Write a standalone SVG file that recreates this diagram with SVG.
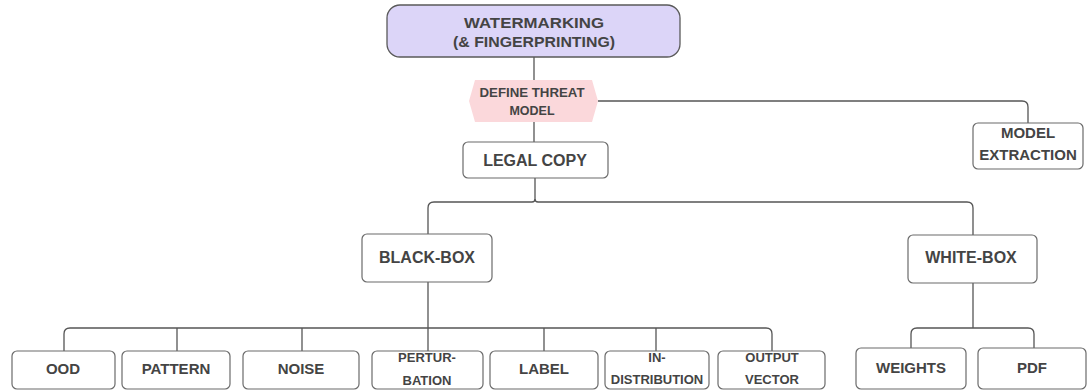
<svg xmlns="http://www.w3.org/2000/svg" width="1088" height="391" viewBox="0 0 1088 391">
  <style>
    .box { fill: #ffffff; stroke: #6b6b6b; stroke-width: 1.2; }
    .lbl { font-family: "Liberation Sans", Arial, sans-serif; font-weight: bold; fill: #444444; text-anchor: middle; }
    .big { font-size: 16px; }
    .mid { font-size: 15px; }
    .sm { font-size: 13px; }
    .wire { fill: none; stroke: #555555; stroke-width: 1.3; }
  </style>
  <rect width="1088" height="391" fill="#ffffff"/>

  <!-- connectors -->
  <g id="connectors">
    <path class="wire" d="M534 57 V80"/>
    <path class="wire" d="M598 101 H1022 Q1028 101 1028 107 V123"/>
    <path class="wire" d="M534 122 V142"/>
    <path class="wire" d="M535 178 V199 Q535 202 532 202 H434 Q428 202 428 208 V234"/>
    <path class="wire" d="M535 199 Q535 202 538 202 H967 Q973 202 973 208 V235"/>
    <path class="wire" d="M428 282 V351"/>
    <path class="wire" d="M428 328 H70 Q64 328 64 334 V351"/>
    <path class="wire" d="M177 328 V351"/>
    <path class="wire" d="M302 328 V351"/>
    <path class="wire" d="M428 328 H766 Q772 328 772 334 V351"/>
    <path class="wire" d="M544 328 V351"/>
    <path class="wire" d="M656 328 V351"/>
    <path class="wire" d="M973 283 V328"/>
    <path class="wire" d="M973 328 H917 Q911 328 911 334 V348"/>
    <path class="wire" d="M973 328 H1028 Q1034 328 1034 334 V348"/>
  </g>

  <!-- root -->
  <g id="watermarking">
    <rect x="387" y="5" width="293" height="52" rx="13" fill="#dcd5f8" stroke="#5a5a5a" stroke-width="1.3"/>
    <text class="lbl" x="534" y="28" font-size="15" textLength="140" lengthAdjust="spacingAndGlyphs">WATERMARKING</text>
    <text class="lbl" x="534" y="47" font-size="15" textLength="162" lengthAdjust="spacingAndGlyphs">(&amp; FINGERPRINTING)</text>
  </g>

  <g id="threat-model">
    <polygon points="475,80 592,80 598,101 592,122 475,122 469,101" fill="#fbd8db"/>
    <text class="lbl" x="532" y="97" font-size="12.5" textLength="105" lengthAdjust="spacingAndGlyphs">DEFINE THREAT</text>
    <text class="lbl" x="532" y="115" font-size="12.5">MODEL</text>
  </g>

  <g id="model-extraction">
    <rect class="box" x="973" y="123" width="110" height="46" rx="5"/>
    <text class="lbl mid" x="1028" y="138">MODEL</text>
    <text class="lbl mid" x="1028" y="160">EXTRACTION</text>
  </g>

  <g id="legal-copy">
    <rect class="box" x="463" y="142" width="145" height="36" rx="5"/>
    <text class="lbl big" x="535" y="166">LEGAL COPY</text>
  </g>

  <g id="black-box">
    <rect class="box" x="362" y="234" width="130" height="48" rx="5"/>
    <text class="lbl big" x="427" y="263">BLACK-BOX</text>
  </g>

  <g id="white-box">
    <rect class="box" x="908" y="235" width="129" height="48" rx="5"/>
    <text class="lbl big" x="971" y="263">WHITE-BOX</text>
  </g>

  <g id="ood">
    <rect class="box" x="12" y="351" width="103" height="38" rx="5"/>
    <text class="lbl mid" x="63" y="374">OOD</text>
  </g>
  <g id="pattern">
    <rect class="box" x="122" y="351" width="108" height="38" rx="5"/>
    <text class="lbl mid" x="176" y="374">PATTERN</text>
  </g>
  <g id="noise">
    <rect class="box" x="243" y="351" width="116" height="38" rx="5"/>
    <text class="lbl mid" x="301" y="374">NOISE</text>
  </g>
  <g id="perturbation">
    <rect class="box" x="372" y="351" width="111" height="38" rx="5"/>
    <text class="lbl sm" x="427" y="362">PERTUR-</text>
    <text class="lbl sm" x="427" y="385">BATION</text>
  </g>
  <g id="label">
    <rect class="box" x="490" y="351" width="108" height="38" rx="5"/>
    <text class="lbl mid" x="544" y="374">LABEL</text>
  </g>
  <g id="in-distribution">
    <rect class="box" x="605" y="351" width="104" height="38" rx="5"/>
    <text class="lbl sm" x="657" y="362">IN-</text>
    <text class="lbl sm" x="657" y="384">DISTRIBUTION</text>
  </g>
  <g id="output-vector">
    <rect class="box" x="718" y="351" width="107" height="38" rx="5"/>
    <text class="lbl sm" x="772" y="362">OUTPUT</text>
    <text class="lbl sm" x="772" y="384">VECTOR</text>
  </g>

  <g id="weights">
    <rect class="box" x="856" y="348" width="110" height="41" rx="5"/>
    <text class="lbl mid" x="911" y="373">WEIGHTS</text>
  </g>
  <g id="pdf">
    <rect class="box" x="978" y="348" width="108" height="41" rx="5"/>
    <text class="lbl mid" x="1032" y="373">PDF</text>
  </g>
</svg>
